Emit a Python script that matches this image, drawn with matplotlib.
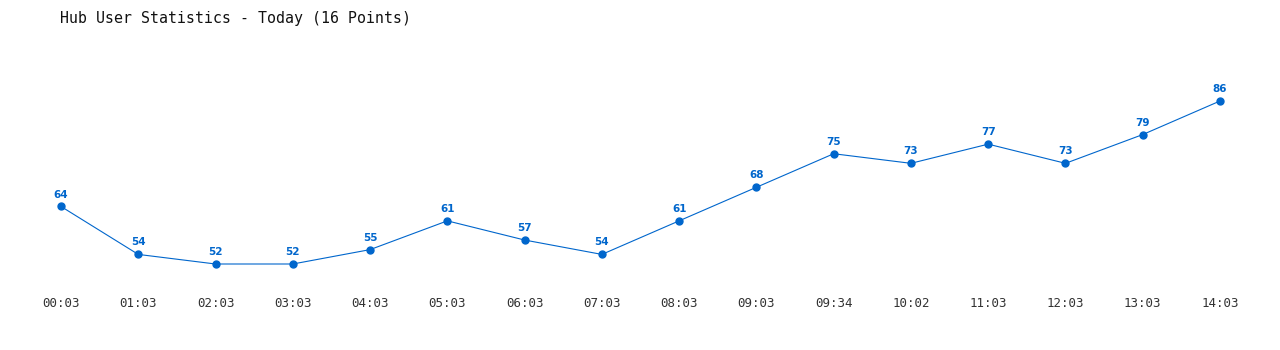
import matplotlib
matplotlib.use("Agg")
import matplotlib.pyplot as plt

# data
TIMES = ["00:03", "01:03", "02:03", "03:03", "04:03", "05:03", "06:03", "07:03",
         "08:03", "09:03", "09:34", "10:02", "11:03", "12:03", "13:03", "14:03"]
USERS = [64, 54, 52, 52, 55, 61, 57, 54, 61, 68, 75, 73, 77, 73, 79, 86]

BLUE = "#0066cc"
W, H = 1280, 350

fig = plt.figure(figsize=(W / 100, H / 100), dpi=100)
# axes box: first/last point and min/max values land on the plot edges
ax = fig.add_axes([61 / W, (H - 264) / H, (1220 - 61) / W, (264 - 101) / H])

xs = list(range(len(USERS)))
ax.plot(xs, USERS, color=BLUE, linewidth=0.8, marker="o", markersize=5,
        clip_on=False)
for x, v in zip(xs, USERS):
    ax.annotate(str(v), (x, v), xytext=(0, 5), textcoords="offset points",
                ha="center", va="bottom", fontsize=7.5, fontweight="bold",
                color=BLUE)

ax.set_xlim(0, len(USERS) - 1)
ax.set_ylim(min(USERS), max(USERS))
ax.set_xticks(xs)
ax.set_xticklabels(TIMES, family="DejaVu Sans Mono", fontsize=9, color="#333333")
ax.tick_params(axis="x", length=0, pad=24)
ax.set_yticks([])
for s in ax.spines.values():
    s.set_visible(False)

fig.text(60 / W, 1 - 18 / H, "Hub User Statistics - Today (16 Points)",
         family="DejaVu Sans Mono", fontsize=10.7, va="center", ha="left",
         color="#111111")

fig.savefig("out.png", dpi=100)
